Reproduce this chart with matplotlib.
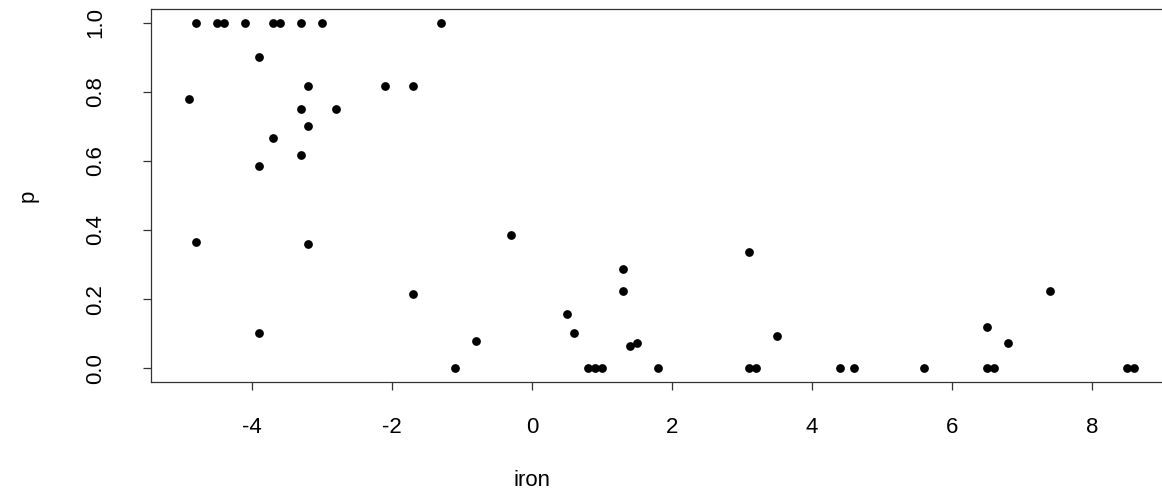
import matplotlib
matplotlib.use("Agg")
import matplotlib.pyplot as plt

# iron values and p
iron = [-4.8, -4.5, -4.4, -4.1, -3.7, -3.6, -3.3, -3.0, -1.3,
        -3.9, -3.2, -2.1, -1.7, -4.9, -3.3, -2.8, -3.2, -3.7, -3.3, -3.9,
        -4.8, -3.2, -0.3, -1.7, -3.9, -0.8, -1.1,
        3.1, 1.3, 1.3, 0.5, 0.6, 1.4, 1.5, 3.5,
        0.8, 0.9, 1.0, 1.8, 3.1, 3.2,
        4.4, 4.6, 5.6, 6.5, 6.6, 8.5, 8.6,
        6.5, 6.8, 7.4]
p = [1.0, 1.0, 1.0, 1.0, 1.0, 1.0, 1.0, 1.0, 1.0,
     0.9, 0.818, 0.818, 0.818, 0.778, 0.75, 0.75, 0.7, 0.667, 0.616, 0.585,
     0.365, 0.359, 0.385, 0.214, 0.102, 0.079, 0.0,
     0.336, 0.287, 0.223, 0.157, 0.102, 0.064, 0.073, 0.093,
     0.0, 0.0, 0.0, 0.0, 0.0, 0.0,
     0.0, 0.0, 0.0, 0.0, 0.0, 0.0, 0.0,
     0.119, 0.073, 0.223]

xticks = [-4, -2, 0, 2, 4, 6, 8]
yticks = [0.0, 0.2, 0.4, 0.6, 0.8, 1.0]

plt.rcParams['font.family'] = ['Liberation Sans', 'DejaVu Sans']

W, H = 1162, 496
fig = plt.figure(figsize=(W / 100, H / 100), dpi=100)
# axes box: left edge 151px, right edge runs past the image, top 9px, bottom 382px
ax = fig.add_axes([151 / W, (H - 382) / H, (1172 - 151) / W, (382 - 9) / H])

ax.plot(iron, p, 'o', color='black', markersize=6.3, markeredgewidth=0)

ax.set_xlim(-5.44, 9.14)
ax.set_ylim(-0.04, 1.04)
ax.set_xticks(xticks)
ax.set_xticklabels([str(t) for t in xticks])
ax.set_yticks(yticks)
ax.set_yticklabels([f"{t:.1f}" for t in yticks], rotation=90, va='center')

for s in ax.spines.values():
    s.set_linewidth(0.9)
    s.set_color('#333333')
ax.tick_params(axis='both', direction='out', length=6, width=0.9, colors='#333333',
               labelcolor='black', labelsize=16)
ax.tick_params(axis='x', pad=19)
ax.tick_params(axis='y', pad=26)

fig.text(532 / W, 1 - 481 / H, 'iron', ha='center', va='center', fontsize=16)
fig.text(28 / W, 1 - 196 / H, 'p', ha='center', va='center', rotation=90, fontsize=16)

fig.savefig('out.png', dpi=100)
